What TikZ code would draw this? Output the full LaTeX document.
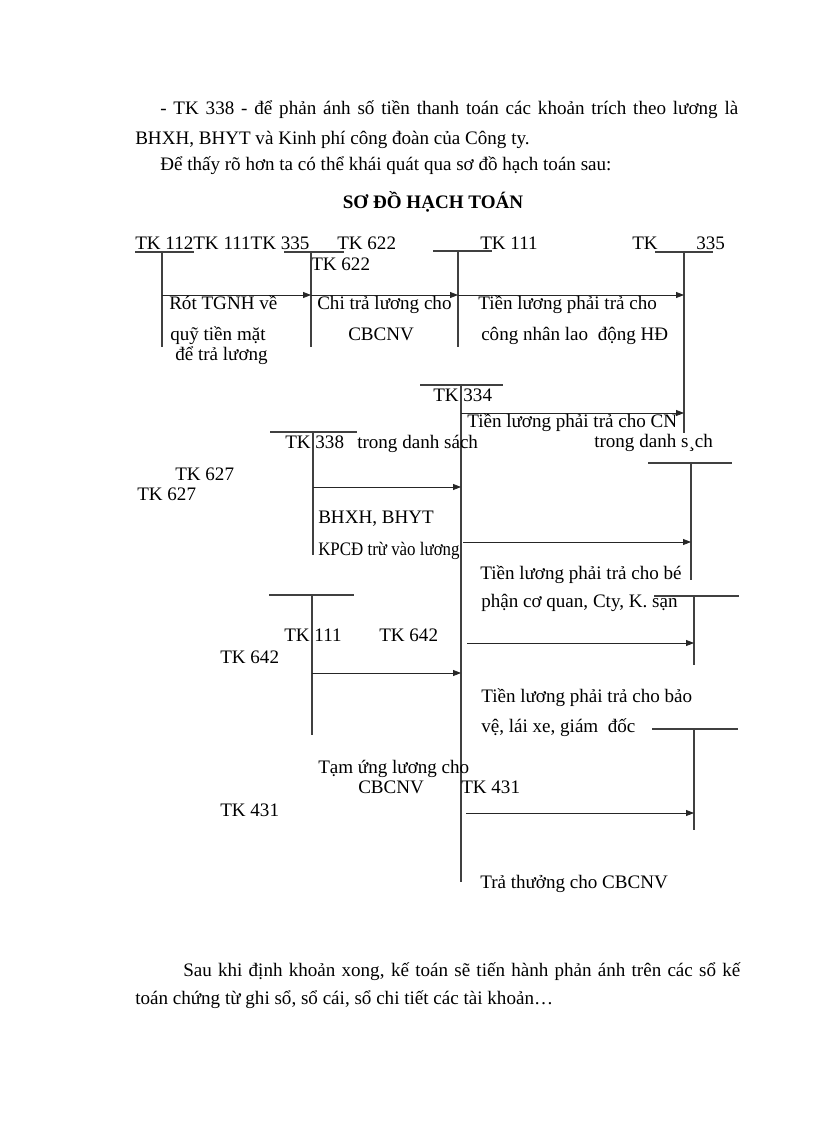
\documentclass[tikz,border=0pt]{standalone}
\usepackage{fontspec}
\setmainfont{Liberation Serif}
\usetikzlibrary{arrows.meta}

\begin{document}
\begin{tikzpicture}[x=0.75pt, y=-0.75pt, font=\fontsize{14.3}{17}\selectfont]
                \tikzstyle{txt} = [inner sep=0pt, anchor=base west]
                \tikzstyle{bar} = [line width=0.8pt, black!75]
                \tikzstyle{flow} = [line width=0.6pt, black!85, -{Triangle[length=6pt, width=4.5pt]}]

                \useasboundingbox (0,0) rectangle (816,1123);

                % Text above the scheme
                \node[txt] (p1) at (160,115) {\makebox[433.5pt][s]{- TK 338 - để phản ánh số tiền thanh toán các khoản trích theo lương là}};
                \node[txt] (p2) at (135,145) {BHXH, BHYT và Kinh phí công đoàn của Công ty.};
                \node[txt] (p3) at (160,171) {Để thấy rõ hơn ta có thể khái quát qua sơ đồ hạch toán sau:};
                \node[inner sep=0pt, anchor=base] (title) at (433,209) {\bfseries SƠ ĐỒ HẠCH TOÁN};

                % Account names, first row
                \node[txt] (h1) at (135,249) {TK 112TK 111TK 335};
                \node[txt] (h2) at (337,249) {TK 622};
                \node[txt] (h3) at (311,270) {TK 622};
                \node[txt] (h4) at (480,249) {TK 111};
                \node[txt] (h5) at (632,249) {TK};
                \node[txt] (h6) at (696,249) {335};

                % T-accounts, first row
                \coordinate (b1l) at (135,252); \coordinate (b1r) at (194,252);
                \coordinate (b2l) at (284,252); \coordinate (b2r) at (344,252);
                \coordinate (b3l) at (433,251); \coordinate (b3r) at (492,251);
                \coordinate (b4l) at (655,252); \coordinate (b4r) at (713,252);
                \coordinate (v1t) at (162,252); \coordinate (v1b) at (162,347);
                \coordinate (v2t) at (311,252); \coordinate (v2b) at (311,347);
                \coordinate (v3t) at (458,251); \coordinate (v3b) at (458,347);
                \coordinate (v4t) at (684,252); \coordinate (v4b) at (684,433);
                \draw[bar] (b1l) -- (b1r);
                \draw[bar] (b2l) -- (b2r);
                \draw[bar] (b3l) -- (b3r);
                \draw[bar] (b4l) -- (b4r);
                \draw[bar] (v1t) -- (v1b);
                \draw[bar] (v2t) -- (v2b);
                \draw[bar] (v3t) -- (v3b);
                \draw[bar] (v4t) -- (v4b);

                \coordinate (a1) at (162,295); \coordinate (a2) at (311,295);
                \coordinate (a3) at (458,295); \coordinate (a4) at (684,295);
                \draw[flow] (a1) -- (a2);
                \draw[flow] (a2) -- (a3);
                \draw[flow] (a3) -- (a4);

                \node[txt] (l1) at (169,309) {Rót TGNH về};
                \node[txt] (l2) at (170,340) {quỹ tiền mặt};
                \node[txt] (l3) at (175,360) {để trả lương};
                \node[txt] (l4) at (317,309) {Chi trả lương cho};
                \node[txt] (l5) at (348,340) {CBCNV};
                \node[txt] (l6) at (478,309) {Tiền lương phải trả cho};
                \node[txt] (l7) at (481,340) {công nhân lao\ \ động HĐ};

                % TK 334 (long middle line)
                \coordinate (c1l) at (420,385); \coordinate (c1r) at (503,385);
                \coordinate (m1t) at (461,385); \coordinate (m1b) at (461,882);
                \draw[bar] (c1l) -- (c1r);
                \draw[bar] (m1t) -- (m1b);
                \node[txt] (k1) at (433,401) {TK 334};
                \coordinate (e1s) at (461,413); \coordinate (e1e) at (684,413);
                \draw[flow] (e1s) -- (e1e);
                \node[txt] (k2) at (467,427) {Tiền lương phải trả cho CN};
                \node[txt] (k3) at (594,447) {trong danh s¸ch};

                % TK 338
                \coordinate (c2l) at (270,432); \coordinate (c2r) at (357,432);
                \coordinate (m2t) at (313,432); \coordinate (m2b) at (313,555);
                \draw[bar] (c2l) -- (c2r);
                \draw[bar] (m2t) -- (m2b);
                \node[txt] (k4) at (285,448) {TK 338};
                \node[txt] (k5) at (357,448) {trong danh sách};
                \node[txt] (k6) at (175,480) {TK 627};
                \node[txt] (k7) at (137,500) {TK 627};
                \coordinate (e2s) at (313,487); \coordinate (e2e) at (461,487);
                \draw[flow] (e2s) -- (e2e);
                \node[txt] (k8) at (318,523) {BHXH, BHYT};
                \node[txt] (k9) at (318,555) {\resizebox{106pt}{\height}{KPCĐ trừ vào lương}};

                % right T-account (TK 627)
                \coordinate (c3l) at (648,463); \coordinate (c3r) at (732,463);
                \coordinate (m3t) at (691,463); \coordinate (m3b) at (691,580);
                \draw[bar] (c3l) -- (c3r);
                \draw[bar] (m3t) -- (m3b);
                \coordinate (e3s) at (463,542); \coordinate (e3e) at (691,542);
                \draw[flow] (e3s) -- (e3e);
                \node[txt] (k10) at (480,579) {Tiền lương phải trả cho bé};
                \node[txt] (k11) at (481,607) {phận cơ quan, Cty, K. sạn};

                % right T-account (TK 642)
                \coordinate (c4l) at (654,596); \coordinate (c4r) at (739,596);
                \coordinate (m4t) at (694,596); \coordinate (m4b) at (694,665);
                \draw[bar] (c4l) -- (c4r);
                \draw[bar] (m4t) -- (m4b);
                \coordinate (e4s) at (467,643); \coordinate (e4e) at (694,643);
                \draw[flow] (e4s) -- (e4e);

                % TK 111, lower
                \coordinate (c5l) at (269,595); \coordinate (c5r) at (354,595);
                \coordinate (m5t) at (312,595); \coordinate (m5b) at (312,735);
                \draw[bar] (c5l) -- (c5r);
                \draw[bar] (m5t) -- (m5b);
                \node[txt] (k12) at (284,641) {TK 111};
                \node[txt] (k13) at (379,641) {TK 642};
                \node[txt] (k14) at (220,663) {TK 642};
                \coordinate (e5s) at (312,673); \coordinate (e5e) at (461,673);
                \draw[flow] (e5s) -- (e5e);
                \node[txt] (k15) at (481,702) {Tiền lương phải trả cho bảo};
                \node[txt] (k16) at (481,732) {vệ, lái xe, giám\ \ đốc};

                % right T-account (TK 431)
                \coordinate (c6l) at (652,729); \coordinate (c6r) at (738,729);
                \coordinate (m6t) at (694,729); \coordinate (m6b) at (694,830);
                \draw[bar] (c6l) -- (c6r);
                \draw[bar] (m6t) -- (m6b);
                \coordinate (e6s) at (466,813); \coordinate (e6e) at (694,813);
                \draw[flow] (e6s) -- (e6e);
                \node[txt] (k17) at (318,773) {Tạm ứng lương cho};
                \node[txt] (k18) at (358,793) {CBCNV};
                \node[txt] (k19) at (461,793) {TK 431};
                \node[txt] (k20) at (220,816) {TK 431};
                \node[txt] (k21) at (480,888) {Trả thưởng cho CBCNV};

                % Text below the scheme
                \node[txt] (q1) at (183,976) {\makebox[417.75pt][s]{Sau khi định khoản xong, kế toán sẽ tiến hành phản ánh trên các sổ kế}};
                \node[txt] (q2) at (135,1004) {toán chứng từ ghi sổ, sổ cái, sổ chi tiết các tài khoản…};
            \end{tikzpicture}
\end{document}
